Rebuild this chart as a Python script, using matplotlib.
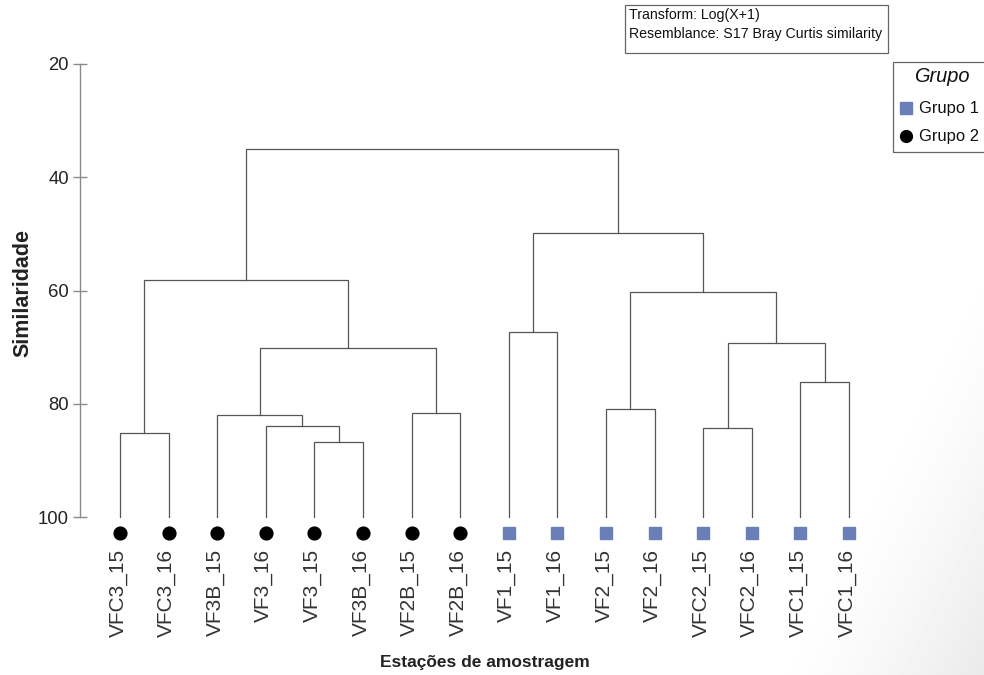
import numpy as np
import matplotlib
matplotlib.use("Agg")
import matplotlib.pyplot as plt
from matplotlib import font_manager
from matplotlib.patches import Rectangle
from matplotlib.lines import Line2D

# ---------------- data ----------------
labels = ['VFC3_15', 'VFC3_16', 'VF3B_15', 'VF3_16', 'VF3_15', 'VF3B_16',
          'VF2B_15', 'VF2B_16', 'VF1_15', 'VF1_16', 'VF2_15', 'VF2_16',
          'VFC2_15', 'VFC2_16', 'VFC1_15', 'VFC1_16']
groups = [2, 2, 2, 2, 2, 2, 2, 2, 1, 1, 1, 1, 1, 1, 1, 1]
# merges: ids < 16 are leaves, id 16+i is merge i
merge_a = [4, 3, 2, 6, 18, 0, 21, 8, 10, 12, 14, 25, 24, 23, 22]
merge_b = [5, 16, 17, 7, 19, 1, 20, 9, 11, 13, 15, 26, 27, 28, 29]
merge_sim = [86.7, 84.0, 81.9, 81.6, 70.1, 85.1, 58.2, 67.4, 81.0, 84.3,
             76.2, 69.2, 60.3, 49.8, 35.0]
yticks = [20, 40, 60, 80, 100]
group_names = ['Grupo 1', 'Grupo 2']

# ---------------- fonts ----------------
names = {f.name for f in font_manager.fontManager.ttflist}
NARROW = 'Liberation Sans Narrow' in names
narrow_fam = ['Liberation Sans Narrow', 'Liberation Sans', 'DejaVu Sans'] if NARROW else ['Liberation Sans', 'DejaVu Sans']
nscale = 1.0 if NARROW else 0.82
plt.rcParams['font.family'] = ['Liberation Sans', 'DejaVu Sans']

W, H = 984, 675
fig = plt.figure(figsize=(W / 100, H / 100), dpi=100)

# background subtle shading bottom-right
bg = fig.add_axes([0, 0, 1, 1], zorder=-10)
xx, yy = np.meshgrid(np.arange(W), np.arange(H))
d = np.clip((xx + 0.5 * yy - 1100) / 221.0, 0, 1)
img = 1 - 0.085 * d ** 1.4
bg.imshow(img, extent=[0, W, H, 0], cmap='gray', vmin=0, vmax=1, aspect='auto')
bg.set_xlim(0, W); bg.set_ylim(H, 0)
bg.axis('off')

# main axes: y=20 at px 64, y=100 at px 517 ; leaf0 at px120, spacing 48.6
px_top, px_bot = 64, 517
ax = fig.add_axes([80 / W, 1 - px_bot / H, 800 / W, (px_bot - px_top) / H])
ax.set_facecolor('none')
sp = 48.6
ax.set_xlim(-40 / sp, 15 + 31 / sp)
ax.set_ylim(100, 20)

# compute node positions
n = len(labels)
xpos = {i: float(i) for i in range(n)}
ypos = {i: 100.0 for i in range(n)}
lc = '#555555'
for k, (a, b, s) in enumerate(zip(merge_a, merge_b, merge_sim)):
    nid = n + k
    xa, xb = xpos[a], xpos[b]
    ax.plot([xa, xa, xb, xb], [ypos[a], s, s, ypos[b]], color=lc, lw=0.9,
            solid_joinstyle='miter', clip_on=False)
    xpos[nid] = (xa + xb) / 2
    ypos[nid] = s

# markers & labels
sq_color = '#6a7fb7'
for i, (lab, g) in enumerate(zip(labels, groups)):
    if g == 1:
        ax.plot(i, 102.9, marker='s', ms=8.8, color=sq_color, mec=sq_color,
                clip_on=False, linestyle='none')
    else:
        ax.plot(i, 102.9, marker='o', ms=9.2, color='black', clip_on=False,
                linestyle='none')
    ax.text(i - 0.04, 105.6, lab, rotation=90, ha='center', va='top',
            fontsize=15, color='#333333')

# axes styling
for s_ in ['top', 'right', 'bottom']:
    ax.spines[s_].set_visible(False)
ax.spines['left'].set_color('#8a8a8a')
ax.spines['left'].set_linewidth(1.0)
ax.set_xticks([])
ax.set_yticks(yticks)
ax.set_yticklabels([str(t) for t in yticks], family=narrow_fam,
                   fontsize=15 * nscale + 1.0, color='#222222')
ax.tick_params(axis='y', direction='inout', length=10, width=1.0,
               color='#8a8a8a', pad=3)

# axis titles
fig.text(23 / W, 1 - 293 / H, 'Similaridade', rotation=90, ha='center',
         va='center', fontsize=15.5, fontweight='bold', color='#222222')
fig.text(485 / W, 1 - 663 / H, 'Estações de amostragem', ha='center',
         va='center', fontsize=12.5, fontweight='bold', color='#222222')

# info box
bx0, by0, bx1, by1 = 625, 5, 888, 53
fig.patches.append(Rectangle((bx0 / W, 1 - by1 / H), (bx1 - bx0) / W,
                             (by1 - by0) / H, transform=fig.transFigure,
                             facecolor='white', edgecolor='#666666', lw=0.9))
fig.text(629 / W, 1 - 15.5 / H, 'Transform: Log(X+1)', ha='left', va='center',
         family=narrow_fam, fontsize=12 * nscale + 0.3, color='#111111')
fig.text(629 / W, 1 - 34 / H, 'Resemblance: S17 Bray Curtis similarity',
         ha='left', va='center', family=narrow_fam, fontsize=12 * nscale + 0.3,
         color='#111111')

# group legend box (cut off at right)
lx0, ly0, lx1, ly1 = 893, 62, 990, 152
fig.patches.append(Rectangle((lx0 / W, 1 - ly1 / H), (lx1 - lx0) / W,
                             (ly1 - ly0) / H, transform=fig.transFigure,
                             facecolor='white', edgecolor='#666666', lw=0.9,
                             clip_on=False))
fig.text(942 / W, 1 - 76 / H, 'Grupo', ha='center', va='center',
         family=narrow_fam, style='italic', fontsize=17 * nscale + 0.5,
         color='#111111')
leg_y = [108, 136]
for name, yy_, g in zip(group_names, leg_y, [1, 2]):
    if g == 1:
        fig.lines.append(Line2D([906 / W], [1 - yy_ / H], marker='s', ms=8.5,
                                color=sq_color, mec=sq_color,
                                transform=fig.transFigure))
    else:
        fig.lines.append(Line2D([906 / W], [1 - yy_ / H], marker='o', ms=8.5,
                                color='black', transform=fig.transFigure))
    fig.text(919 / W, 1 - yy_ / H, name, ha='left', va='center',
             family=narrow_fam, fontsize=14.5 * nscale, color='#111111')

fig.savefig('out.png', dpi=100)
